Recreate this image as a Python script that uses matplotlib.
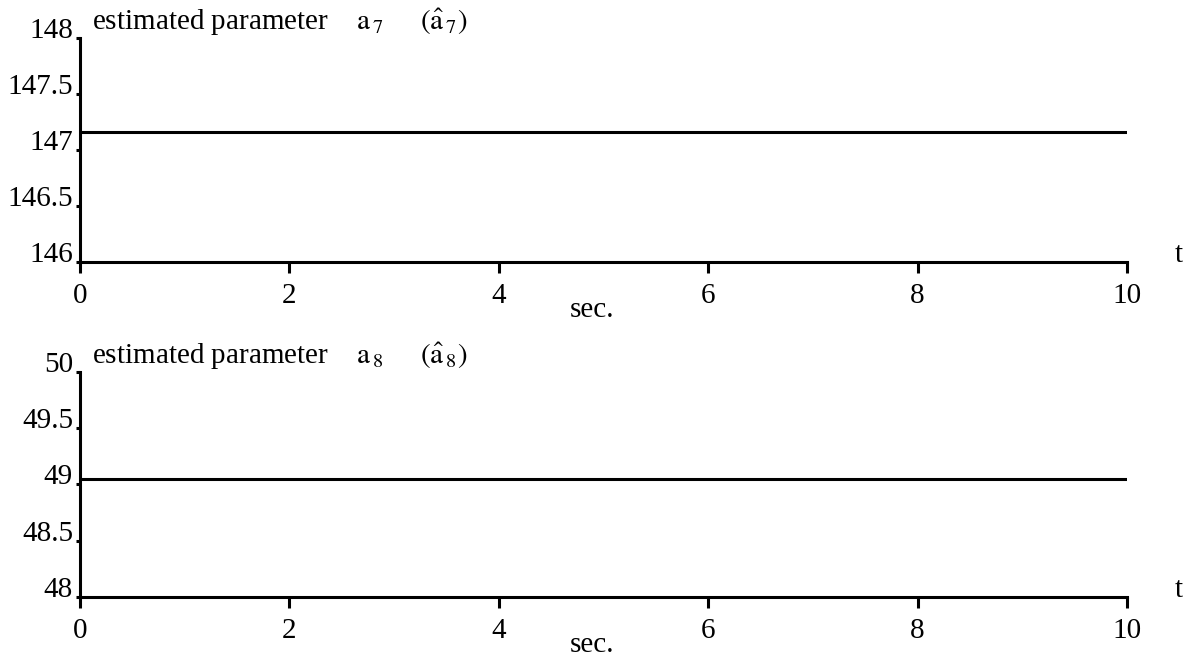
import matplotlib.pyplot as plt

plt.rcParams['font.family'] = 'Liberation Serif'
plt.rcParams['mathtext.fontset'] = 'stix'

# estimated parameters over time
time_s = [0, 10]
a7_est = [147.16, 147.16]
a8_est = [49.05, 49.05]

x_ticks = [0, 2, 4, 6, 8, 10]
a7_ticks = [146, 146.5, 147, 147.5, 148]
a7_labels = ['146', '146.5', '147', '147.5', '148']
a8_ticks = [48, 48.5, 49, 49.5, 50]
a8_labels = ['48', '48.5', '49', '49.5', '50']

FS = 21
LW = 2.2


def style_axis(ax, yticks, ylabels, title):
    ax.set_xlim(0, 10)
    ax.set_ylim(yticks[0], yticks[-1])
    for side in ['top', 'right']:
        ax.spines[side].set_visible(False)
    for side in ['left', 'bottom']:
        ax.spines[side].set_linewidth(LW)
        ax.spines[side].set_capstyle('projecting')
    ax.set_xticks(x_ticks)
    ax.set_yticks(yticks, ylabels)
    ax.tick_params(axis='x', direction='out', length=8, width=LW, pad=7,
                   labelsize=FS)
    ax.tick_params(axis='y', direction='out', length=3, width=LW, pad=2,
                   labelsize=FS)
    for lab in ax.get_yticklabels():
        lab.set_va('baseline')
    ax.text(0.0115, 1.036, title, transform=ax.transAxes, fontsize=FS,
            ha='left', va='baseline')
    ax.text(0.489, -0.245, 'sec.', transform=ax.transAxes, fontsize=FS,
            ha='center', va='baseline')
    ax.text(1.049, 0.0, 't', transform=ax.transAxes, fontsize=FS,
            ha='center', va='baseline')


fig = plt.figure(figsize=(11.98, 6.62), dpi=100)
ax1 = fig.add_axes([0.0668, 0.6042, 0.8739, 0.3384])
ax2 = fig.add_axes([0.0668, 0.0982, 0.8739, 0.3399])

ax1.plot(time_s, a7_est, color='black', lw=LW)
ax2.plot(time_s, a8_est, color='black', lw=LW)

style_axis(ax1, a7_ticks, a7_labels,
           r'estimated parameter    $\mathrm{a}_{\,7}$     $(\hat{\mathrm{a}}_{\,7})$')
style_axis(ax2, a8_ticks, a8_labels,
           r'estimated parameter    $\mathrm{a}_{\,8}$     $(\hat{\mathrm{a}}_{\,8})$')

fig.savefig('out.png', dpi=100)
